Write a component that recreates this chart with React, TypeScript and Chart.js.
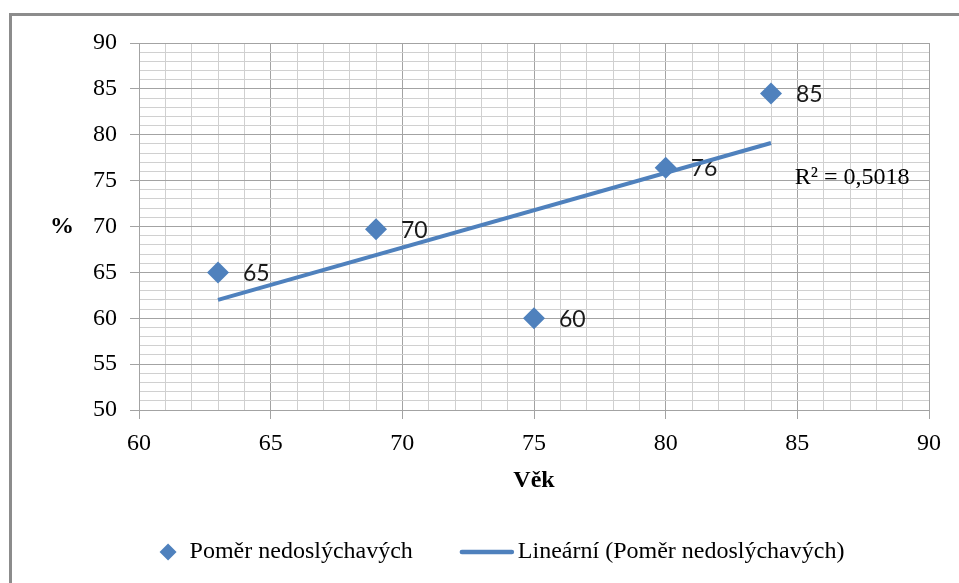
import React, { useEffect, useRef } from 'react';
import { Chart, registerables } from 'chart.js';

Chart.register(...registerables);

// ---- data ----
const ages = [63, 69, 75, 80, 84];
const ratios = [65, 69.7, 60, 76.4, 84.5];
const trendAges = [63, 84];
const trendRatios = [62.0, 79.1];
const seriesName = 'Poměr nedoslýchavých';
const trendName = 'Lineární (Poměr nedoslýchavých)';
const rSquaredText = 'R² = 0,5018';
const xTitle = 'Věk';
const yTitle = '%';
const xRange = [60, 90];
const yRange = [50, 90];
const majorStep = 5;
const minorStep = 1;

const BLUE = '#4F81BD';
const MAJOR = '#a3a3a3';
const MINOR = '#d0d0d0';
const SERIF = "'Liberation Serif', 'Times New Roman', serif";
const LABEL_FONT = "Lato, 'Liberation Sans', sans-serif";
const TEXT_SIZE = 24;

const isMajor = (v: number) => Math.abs(v / majorStep - Math.round(v / majorStep)) < 1e-9;

const decorPlugin = {
  id: 'decor',
  beforeDraw(chart: any) {
    const { ctx, width, height } = chart;
    ctx.save();
    ctx.fillStyle = '#ffffff';
    ctx.fillRect(0, 0, width, height);
    ctx.strokeStyle = '#8c8c8c';
    ctx.lineWidth = 3;
    ctx.strokeRect(10.5, 14.5, width + 50, height + 50);
    ctx.restore();
  },
  afterDatasetDraw(chart: any, args: any) {
    if (args.index !== 1) return;
    const { ctx } = chart;
    const meta = chart.getDatasetMeta(1);
    ctx.save();
    ctx.font = `23px ${LABEL_FONT}`;
    ctx.fillStyle = '#1a1a1a';
    ctx.textAlign = 'left';
    ctx.textBaseline = 'middle';
    meta.data.forEach((pt: any, i: number) => {
      ctx.fillText(String(Math.round(ratios[i])), pt.x + 25, pt.y + 1);
    });
    ctx.restore();
  },
  afterDraw(chart: any) {
    const { ctx, chartArea, scales } = chart;
    ctx.save();
    ctx.fillStyle = '#000';
    ctx.textBaseline = 'middle';
    // axis titles
    ctx.font = `bold ${TEXT_SIZE}px ${SERIF}`;
    ctx.textAlign = 'center';
    ctx.fillText(xTitle, (chartArea.left + chartArea.right) / 2, 481);
    ctx.fillText(yTitle, 62, scales.y.getPixelForValue(70));
    // R squared
    ctx.font = `${TEXT_SIZE}px ${SERIF}`;
    ctx.textAlign = 'left';
    ctx.fillText(rSquaredText, scales.x.getPixelForValue(84.9), scales.y.getPixelForValue(75.3));
    // legend
    const ly = 552;
    const w1 = ctx.measureText(seriesName).width;
    const w2 = ctx.measureText(trendName).width;
    const total = 17 + 13 + w1 + 47 + 54 + 4 + w2;
    let x = 502 - total / 2;
    ctx.fillStyle = BLUE;
    ctx.beginPath();
    ctx.moveTo(x + 8.5, ly - 8.5);
    ctx.lineTo(x + 17, ly);
    ctx.lineTo(x + 8.5, ly + 8.5);
    ctx.lineTo(x, ly);
    ctx.closePath();
    ctx.fill();
    x += 17 + 13;
    ctx.fillStyle = '#000';
    ctx.fillText(seriesName, x, ly);
    x += w1 + 47;
    ctx.strokeStyle = BLUE;
    ctx.lineWidth = 4.5;
    ctx.lineCap = 'round';
    ctx.beginPath();
    ctx.moveTo(x + 2, ly);
    ctx.lineTo(x + 52, ly);
    ctx.stroke();
    x += 54 + 4;
    ctx.fillText(trendName, x, ly);
    ctx.restore();
  },
};

export default function App() {
  const ref = useRef<HTMLCanvasElement | null>(null);

  useEffect(() => {
    if (!ref.current) return;
    const gridColor = (c: any) => (c.tick && isMajor(c.tick.value) ? MAJOR : MINOR);
    const tickColor = (c: any) => (c.tick && isMajor(c.tick.value) ? MAJOR : 'rgba(0,0,0,0)');
    const tickLabel = (v: any) => (isMajor(Number(v)) ? String(v) : '');
    const chart = new Chart(ref.current, {
      type: 'scatter',
      data: {
        datasets: [
          {
            type: 'line',
            label: trendName,
            data: trendAges.map((x, i) => ({ x, y: trendRatios[i] })),
            borderColor: BLUE,
            backgroundColor: BLUE,
            borderWidth: 4,
            borderCapStyle: 'butt',
            pointRadius: 0,
            fill: false,
            tension: 0,
          } as any,
          {
            label: seriesName,
            data: ages.map((x, i) => ({ x, y: ratios[i] })),
            pointStyle: 'rectRot',
            pointRadius: 11,
            pointHoverRadius: 11,
            backgroundColor: BLUE,
            borderColor: BLUE,
            borderWidth: 0,
          },
        ],
      },
      options: {
        animation: false,
        responsive: false,
        devicePixelRatio: 1,
        layout: { padding: { left: 0, right: 30, top: 43, bottom: 0 } },
        plugins: {
          legend: { display: false },
          tooltip: { enabled: false },
        },
        scales: {
          x: {
            type: 'linear',
            min: xRange[0],
            max: xRange[1],
            afterFit: (s: any) => {
              s.height = 173;
            },
            border: { color: MAJOR, width: 1 },
            grid: { color: gridColor, tickColor, tickLength: 9, lineWidth: 1 },
            ticks: {
              stepSize: minorStep,
              autoSkip: false,
              maxRotation: 0,
              padding: 10,
              color: '#000',
              font: { family: SERIF, size: TEXT_SIZE },
              callback: tickLabel,
            },
          },
          y: {
            type: 'linear',
            min: yRange[0],
            max: yRange[1],
            afterFit: (s: any) => {
              s.width = 139;
            },
            border: { color: MAJOR, width: 1 },
            grid: { color: gridColor, tickColor, tickLength: 9, lineWidth: 1 },
            ticks: {
              stepSize: minorStep,
              autoSkip: false,
              padding: 13,
              color: '#000',
              font: { family: SERIF, size: TEXT_SIZE },
              callback: tickLabel,
            },
          },
        },
      },
      plugins: [decorPlugin],
    });
    return () => chart.destroy();
  }, []);

  return (
    <div style={{ position: 'fixed', left: 0, top: 0, width: 959, height: 583, overflow: 'hidden', background: '#fff' }}>
      <canvas ref={ref} width={959} height={583} style={{ display: 'block', width: 959, height: 583 }} />
    </div>
  );
}
